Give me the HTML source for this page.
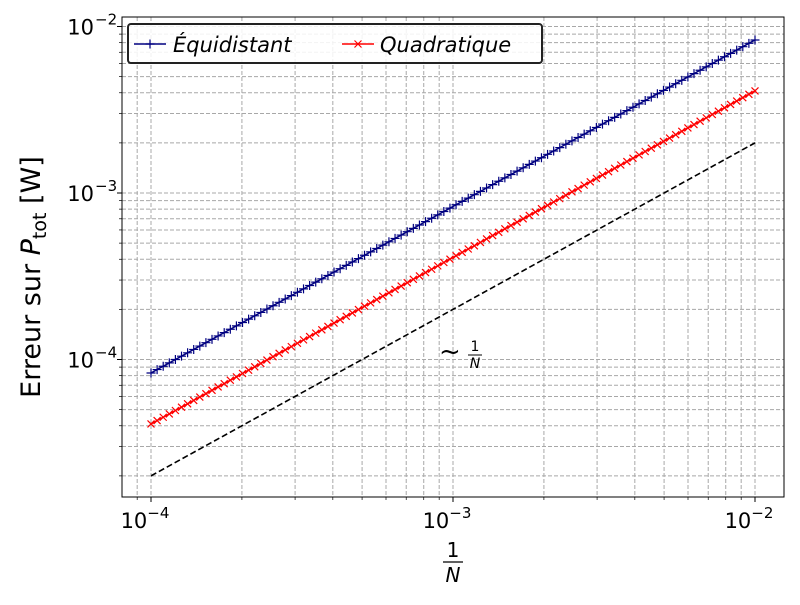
<!DOCTYPE html>
<html><head><meta charset="utf-8">
<style>
html,body{margin:0;padding:0;background:#fff;}
svg text{font-family:"DejaVu Sans","Liberation Sans",sans-serif;}
</style></head>
<body>
<svg id="chart" width="800" height="600" viewBox="0 0 800 600" xmlns="http://www.w3.org/2000/svg"></svg>
<script>
const xsLow=[1,1.0476,1.0975,1.1498,1.2045,1.2619,1.3219,1.3849,1.4508,1.5199,1.5923,1.6681,1.7475,1.8307,1.9179,2.0092,2.1049,2.2051,2.3101,2.4201,2.5354,2.6561,2.7826,2.9151,3.0539,3.1993,3.3516,3.5112,3.6784,3.8535,4.0370,4.2292,4.4306,4.6416,4.8626,5.0941,5.3367,5.5908,5.8570,6.1359,6.4281,6.7342,7.0548,7.3907,7.7426,8.1113,8.4975,8.9022,9.3260,9.7701];
const xsHigh=[1.0235,1.0723,1.1233,1.1768,1.2328,1.2915,1.3530,1.4175,1.4850,1.5557,1.6298,1.7074,1.7887,1.8738,1.9630,2.0565,2.1544,2.2570,2.3645,2.4771,2.5950,2.7186,2.8480,2.9836,3.1257,3.2745,3.4305,3.5938,3.7649,3.9442,4.1320,4.3288,4.5349,4.7508,4.9770,5.2140,5.4623,5.7224,5.9948,6.2803,6.5793,6.8926,7.2208,7.5646,7.9248,8.3022,8.6975,9.1116,9.5455,10.0];
const eqLow=[.83,.870,.911,.954,1.000,1.047,1.097,1.149,1.204,1.262,1.322,1.385,1.450,1.519,1.592,1.668,1.747,1.830,1.917,2.009,2.104,2.205,2.310,2.420,2.535,2.655,2.782,2.914,3.053,3.198,3.351,3.510,3.677,3.853,4.036,4.228,4.429,4.640,4.861,5.093,5.335,5.589,5.855,6.134,6.426,6.732,7.053,7.389,7.741,8.109];
const eqHigh=[.850,.890,.932,.977,1.023,1.072,1.123,1.177,1.233,1.291,1.353,1.417,1.485,1.555,1.629,1.707,1.788,1.873,1.963,2.056,2.154,2.256,2.364,2.476,2.594,2.718,2.847,2.983,3.125,3.274,3.430,3.593,3.764,3.943,4.131,4.328,4.534,4.750,4.976,5.213,5.461,5.721,5.993,6.279,6.578,6.891,7.219,7.563,7.923,8.3];
const quadLow=[.41,.430,.450,.471,.494,.517,.542,.568,.595,.623,.653,.684,.716,.751,.786,.824,.863,.904,.947,.992,1.040,1.089,1.141,1.195,1.252,1.312,1.374,1.440,1.508,1.580,1.655,1.734,1.817,1.903,1.994,2.089,2.188,2.292,2.401,2.516,2.636,2.761,2.892,3.030,3.174,3.326,3.484,3.650,3.824,4.006];
const quadHigh=[.420,.440,.461,.482,.505,.530,.555,.581,.609,.638,.668,.700,.733,.768,.805,.843,.883,.925,.969,1.016,1.064,1.115,1.168,1.223,1.282,1.343,1.407,1.473,1.544,1.617,1.694,1.775,1.859,1.948,2.041,2.138,2.240,2.346,2.458,2.575,2.698,2.826,2.961,3.101,3.249,3.404,3.566,3.736,3.914,4.1];
const refX=[1e-4,1e-2];
const refY=[2e-5,2e-3];
const xTicks=[-4,-3,-2];
const yTicks=[-4,-3,-2];

const X0=122,X1=784,Y0=17,Y1=497;
const xs=xsLow.map(v=>v*1e-4).concat(xsHigh.map(v=>v*1e-3));
const eq=eqLow.map(v=>v*1e-4).concat(eqHigh.map(v=>v*1e-3));
const quad=quadLow.map(v=>v*1e-4).concat(quadHigh.map(v=>v*1e-3));
function sx(v){return 453+302*(Math.log10(v)+3);}
function sy(v){return 193-166.5*(Math.log10(v)+3);}
const svg=document.getElementById('chart');
const NS='http://www.w3.org/2000/svg';
function mk(tag,attrs,parent){const e=document.createElementNS(NS,tag);for(const k in attrs)e.setAttribute(k,attrs[k]);(parent||svg).appendChild(e);return e;}

const grid=mk('g',{});


for(let d=-5;d<=-1;d++)for(let m=1;m<10;m++){
  const v=m*Math.pow(10,d);
  const px=sx(v);
  if(px>X0&&px<X1){const l=mk('line',{x1:px,x2:px,y1:Y0,y2:Y1,stroke:'#a8a8a8','stroke-width':1,'stroke-dasharray':'4,2'},grid);
    }
  const py=sy(v);
  if(py>Y0&&py<Y1){const l=mk('line',{x1:X0,x2:X1,y1:py,y2:py,stroke:'#a8a8a8','stroke-width':1,'stroke-dasharray':'4,2'},grid);
    }
  if(px>X0&&px<X1){const t=mk('line',{x1:px,x2:px,y1:Y1,y2:Y1+(m==1?5:3),stroke:'#000','stroke-width':m==1?1:0.7});
    }
  if(py>Y0&&py<Y1){const t=mk('line',{x1:X0,x2:X0-(m==1?5:3),y1:py,y2:py,stroke:'#000','stroke-width':m==1?1:0.7});
    }
}
xTicks.forEach(e=>{const t=mk('text',{x:sx(Math.pow(10,e))-6,y:528,'font-size':21,'text-anchor':'middle'});
  
  t.innerHTML='10<tspan dy="-10" font-size="15">−'+(-e)+'</tspan>';});
yTicks.forEach(e=>{const t=mk('text',{x:94,y:sy(Math.pow(10,e))+8,'font-size':21,'text-anchor':'end'});
  
  t.textContent='10';
  const s=mk('text',{x:95,y:sy(Math.pow(10,e))-2,'font-size':15});
  
  s.textContent='−'+(-e);});

const ref=mk('polyline',{points:refX.map((v,i)=>sx(v)+','+sy(refY[i])).join(' '),fill:'none',stroke:'#000','stroke-width':1.6,'stroke-dasharray':'6,3'});


function series(ys,color,name,marker){
  const g=mk('g',{});
  
  mk('polyline',{points:xs.map((v,i)=>sx(v)+','+sy(ys[i])).join(' '),fill:'none',stroke:color,'stroke-width':1.5},g);
  xs.forEach((v,i)=>{const x=sx(v),y=sy(ys[i]);let d;
    if(marker=='+')d=`M${x-4.5},${y}H${x+4.5}M${x},${y-4.5}V${y+4.5}`;
    else d=`M${x-3.5},${y-3.5}L${x+3.5},${y+3.5}M${x-3.5},${y+3.5}L${x+3.5},${y-3.5}`;
    const p=mk('path',{d:d,stroke:color,'stroke-width':1.2,fill:'none'},g);
    });
}
series(eq,'#000080','equidistant-series','+');
series(quad,'#ff0000','quadratic-series','x');

const fr=mk('rect',{x:X0,y:Y0,width:X1-X0,height:Y1-Y0,fill:'none',stroke:'#000','stroke-width':1});


const an=mk('text',{x:439,y:360,'font-size':26});

an.textContent='~';
const an1=mk('text',{x:475,y:351,'font-size':14,'text-anchor':'middle'});
an1.textContent='1';
const anl=mk('line',{x1:468,x2:482,y1:355,y2:355,stroke:'#000','stroke-width':1});

const an2=mk('text',{x:475,y:368,'font-size':14,'font-style':'italic','text-anchor':'middle'});
an2.textContent='N';

const xl1=mk('text',{x:453,y:557,'font-size':20,'text-anchor':'middle'});
xl1.textContent='1';
const xlb=mk('line',{x1:443,x2:463,y1:562,y2:562,stroke:'#000','stroke-width':1.3});

const xl2=mk('text',{x:453,y:582,'font-size':20,'font-style':'italic','text-anchor':'middle'});
xl2.textContent='N';

const yl=mk('text',{x:0,y:0,'font-size':27,'text-anchor':'middle',transform:'translate(40,277) rotate(-90)'});

yl.innerHTML='Erreur sur <tspan font-style="italic">P</tspan><tspan font-size="19" dy="6">tot</tspan><tspan dy="-6"> [W]</tspan>';

const lg=mk('g',{});

mk('rect',{x:128,y:24,width:414,height:39,rx:3,fill:'#fff','fill-opacity':0.85,stroke:'#222','stroke-width':2},lg);
mk('line',{x1:134,x2:166,y1:44,y2:44,stroke:'#000080','stroke-width':1.5},lg);
mk('path',{d:'M145.5,44H154.5M150,39.5V48.5',stroke:'#000080','stroke-width':1.2},lg);
const lt1=mk('text',{x:173,y:52,'font-size':21,'font-style':'italic'},lg);
lt1.textContent='Équidistant';
mk('line',{x1:342,x2:374,y1:44,y2:44,stroke:'#ff0000','stroke-width':1.5},lg);
mk('path',{d:'M354.5,40.5L361.5,47.5M354.5,47.5L361.5,40.5',stroke:'#ff0000','stroke-width':1.2},lg);
const lt2=mk('text',{x:380,y:52,'font-size':21,'font-style':'italic'},lg);
lt2.textContent='Quadratique';
</script>
</body></html>
